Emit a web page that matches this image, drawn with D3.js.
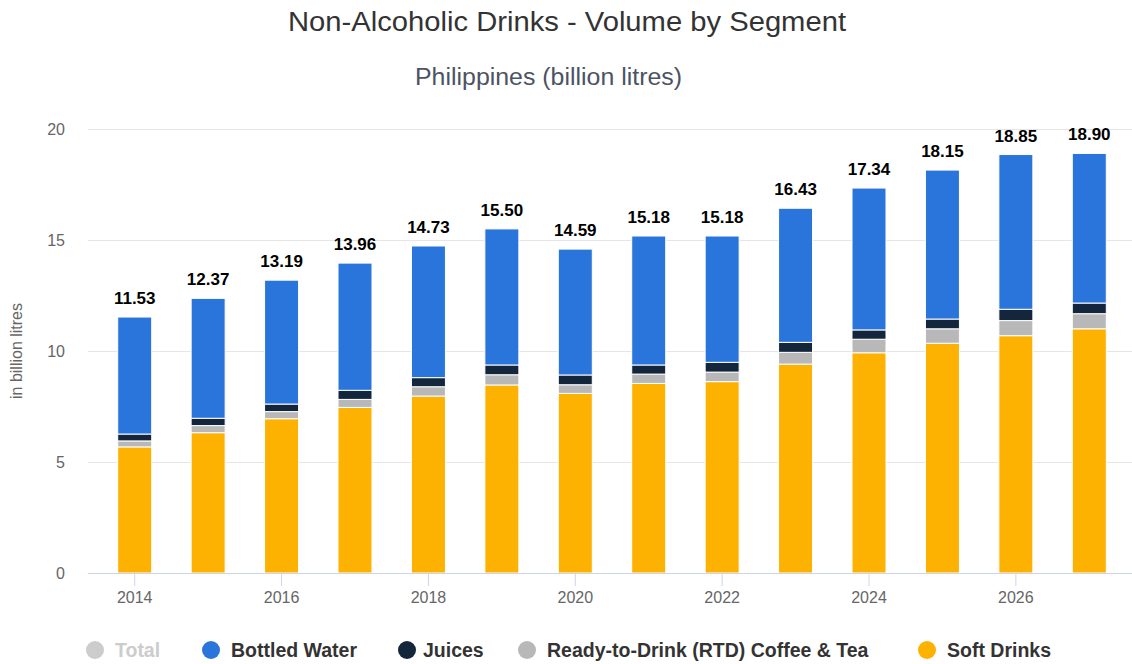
<!DOCTYPE html>
<html lang="en">
  <head>
    <meta charset="UTF-8" />
    <title>Non-Alcoholic Drinks - Volume by Segment</title>
    <style>
      body { margin: 0; background: #fff; }
      svg { font-family: "Liberation Sans", Arial, Helvetica, sans-serif; }
    </style>
  </head>
  <body>
    <svg width="1132" height="664"></svg>
    <script src="https://cdn.jsdelivr.net/npm/d3@7/dist/d3.min.js"></script>
    <script>
      var years = [2014, 2015, 2016, 2017, 2018, 2019, 2020, 2021, 2022, 2023, 2024, 2025, 2026, 2027];
      var softDrinks = [5.68, 6.32, 6.95, 7.46, 7.97, 8.47, 8.09, 8.54, 8.62, 9.41, 9.92, 10.35, 10.69, 11.0];
      var rtdCoffeeTea = [0.27, 0.32, 0.32, 0.36, 0.42, 0.46, 0.39, 0.42, 0.43, 0.53, 0.61, 0.65, 0.68, 0.68];
      var juices = [0.31, 0.33, 0.34, 0.41, 0.41, 0.44, 0.44, 0.41, 0.44, 0.45, 0.42, 0.44, 0.51, 0.48];
      var bottledWater = [5.27, 5.4, 5.58, 5.73, 5.93, 6.13, 5.67, 5.81, 5.69, 6.04, 6.39, 6.71, 6.97, 6.74];
      var totals = [11.53, 12.37, 13.19, 13.96, 14.73, 15.5, 14.59, 15.18, 15.18, 16.43, 17.34, 18.15, 18.85, 18.9];
      var yTicks = [0, 5, 10, 15, 20];
      var xTicks = [2014, 2016, 2018, 2020, 2022, 2024, 2026];

      // stacking order bottom -> top
      var series = [
        { name: "Soft Drinks", values: softDrinks, color: "#fdb100" },
        { name: "Ready-to-Drink (RTD) Coffee & Tea", values: rtdCoffeeTea, color: "#b8b8b8" },
        { name: "Juices", values: juices, color: "#13263c" },
        { name: "Bottled Water", values: bottledWater, color: "#2a75db" }
      ];
      var legendItems = [
        { name: "Total", color: "#cccccc", hidden: true },
        { name: "Bottled Water", color: "#2a75db" },
        { name: "Juices", color: "#13263c" },
        { name: "Ready-to-Drink (RTD) Coffee & Tea", color: "#b8b8b8" },
        { name: "Soft Drinks", color: "#fdb100" }
      ];

      var svg = d3.select("svg");
      var plotLeft = 88, plotRight = 1132;

      var x = d3.scaleBand().domain(years).range([98, 1126])
        .paddingInner(0.537).paddingOuter(0.2685);
      var y = d3.scaleLinear().domain([0, 20]).range([573, 129]);

      // titles
      svg.append("text").attr("x", 288).attr("y", 31)
        .attr("font-size", 27).attr("fill", "#333")
        .attr("textLength", 558).attr("lengthAdjust", "spacingAndGlyphs")
        .text("Non-Alcoholic Drinks - Volume by Segment");
      svg.append("text").attr("x", 415).attr("y", 85)
        .attr("font-size", 23).attr("fill", "#4b5364")
        .attr("textLength", 267).attr("lengthAdjust", "spacingAndGlyphs")
        .text("Philippines (billion litres)");

      // y axis + gridlines
      var yAxis = svg.append("g").attr("transform", "translate(" + plotLeft + ",0)")
        .call(d3.axisLeft(y).tickValues(yTicks).tickSize(-(plotRight - plotLeft)).tickPadding(23));
      yAxis.select(".domain").remove();
      yAxis.selectAll(".tick line").attr("stroke", "#e6e6e6");
      yAxis.selectAll(".tick text").attr("font-size", 16).attr("fill", "#666")
        .attr("font-family", "Liberation Sans, Arial, sans-serif");

      svg.append("text").attr("transform", "translate(22,351) rotate(-90)")
        .attr("text-anchor", "middle").attr("font-size", 16).attr("fill", "#666")
        .text("in billion litres");

      // bars
      var stackData = years.map(function(yr, i) {
        var o = { year: yr };
        series.forEach(function(s) { o[s.name] = s.values[i]; });
        return o;
      });
      var stack = d3.stack().keys(series.map(function(s) { return s.name; }));
      var layers = stack(stackData);

      svg.append("g").selectAll("g").data(layers).enter().append("g")
        .attr("fill", function(d, i) { return series[i].color; })
        .selectAll("rect").data(function(d) { return d; }).enter().append("rect")
        .attr("x", function(d) { return x(d.data.year); })
        .attr("width", x.bandwidth())
        .attr("y", function(d) { return y(d[1]); })
        .attr("height", function(d) { return y(d[0]) - y(d[1]); })
        .attr("stroke", "#fff").attr("stroke-width", 1);

      // x axis
      svg.append("line").attr("x1", plotLeft).attr("x2", plotRight)
        .attr("y1", y(0) + 0.5).attr("y2", y(0) + 0.5).attr("stroke", "#ccd6eb");
      var xAxis = svg.append("g").attr("transform", "translate(0," + y(0) + ")")
        .call(d3.axisBottom(x).tickValues(xTicks).tickSize(13).tickPadding(6));
      xAxis.select(".domain").remove();
      xAxis.selectAll(".tick line").attr("stroke", "#ccd6eb");
      xAxis.selectAll(".tick text").attr("font-size", 16).attr("fill", "#666")
        .attr("font-family", "Liberation Sans, Arial, sans-serif");

      // total labels
      svg.append("g").selectAll("text").data(layers[layers.length - 1]).enter().append("text")
        .attr("x", function(d) { return x(d.data.year) + x.bandwidth() / 2; })
        .attr("y", function(d) { return y(d[1]) - 13; })
        .attr("text-anchor", "middle").attr("font-size", 17).attr("font-weight", "bold")
        .attr("fill", "#000")
        .text(function(d, i) { return totals[i].toFixed(2); });

      // legend
      var legendX = [95, 211, 407, 527, 927];
      var legend = svg.append("g").selectAll("g").data(legendItems).enter().append("g")
        .attr("transform", function(d, i) { return "translate(" + legendX[i] + ",650)"; });
      legend.append("circle").attr("r", 9)
        .attr("fill", function(d) { return d.color; });
      legend.append("text").attr("x", function(d, i) { return i == 2 ? 16 : 20; }).attr("y", 7)
        .attr("font-size", 19.5).attr("font-weight", "bold")
        .attr("fill", function(d) { return d.hidden ? "#cccccc" : "#333"; })
        .text(function(d) { return d.name; });
    </script>
  </body>
</html>
